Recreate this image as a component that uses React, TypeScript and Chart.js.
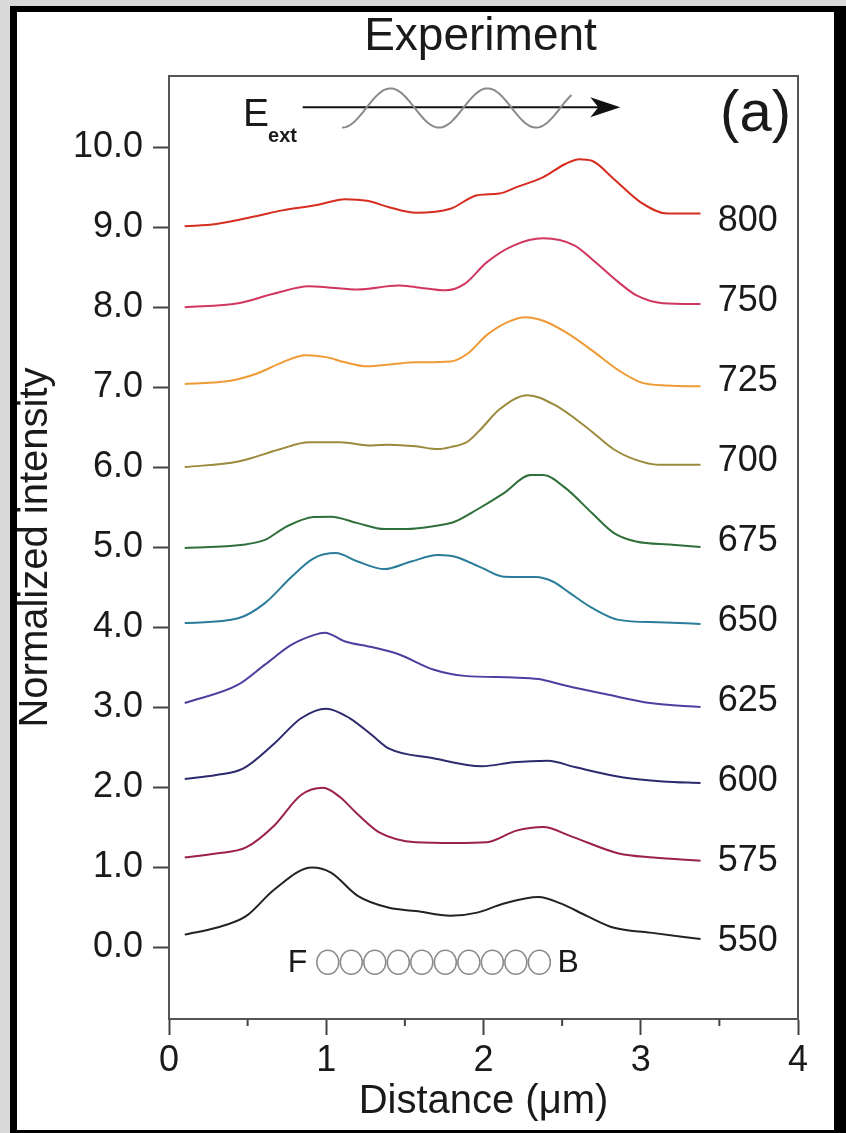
import React, { useEffect, useRef } from "react";
import { Chart, registerables } from "chart.js";

Chart.register(...registerables);

const FONT = "'Liberation Sans', Arial, Helvetica, sans-serif";
const TEXT = "#1a1a1a";

const WAVELENGTHS = ["550", "575", "600", "625", "650", "675", "700", "725", "750", "800"];
const COLORS = ["#222222", "#9c2148", "#2d2a6e", "#4b3f9f", "#2a7c9a", "#2f6f3a", "#9c8a3c", "#ef9a35", "#d1365e", "#d62d20"];

const X_550 = [0.1, 0.3, 0.49, 0.67, 0.91, 1.03, 1.2, 1.4, 1.57, 1.79, 1.96, 2.13, 2.35, 2.49, 2.66, 2.83, 3.06, 3.38];
const Y_550 = [0.155, 0.24, 0.386, 0.72, 0.994, 0.93, 0.64, 0.49, 0.45, 0.39, 0.43, 0.545, 0.625, 0.545, 0.386, 0.24, 0.18, 0.1];

const X_575 = [0.1, 0.3, 0.49, 0.67, 0.84, 0.98, 1.09, 1.2, 1.34, 1.57, 1.82, 2.02, 2.21, 2.38, 2.55, 2.86, 3.08, 3.38];
const Y_575 = [1.12, 1.17, 1.245, 1.52, 1.9, 1.99, 1.87, 1.66, 1.43, 1.31, 1.3, 1.31, 1.455, 1.5, 1.39, 1.17, 1.12, 1.08];

const X_600 = [0.1, 0.3, 0.47, 0.67, 0.84, 1.0, 1.15, 1.29, 1.4, 1.68, 1.99, 2.19, 2.41, 2.58, 2.89, 3.14, 3.38];
const Y_600 = [2.1, 2.15, 2.23, 2.545, 2.86, 2.98, 2.86, 2.65, 2.48, 2.36, 2.26, 2.31, 2.33, 2.25, 2.12, 2.07, 2.05];

const X_625 = [0.1, 0.44, 0.61, 0.78, 0.92, 0.99, 1.12, 1.29, 1.46, 1.68, 1.88, 2.19, 2.35, 2.52, 2.78, 3.06, 3.38];
const Y_625 = [3.05, 3.28, 3.53, 3.78, 3.9, 3.93, 3.82, 3.75, 3.66, 3.47, 3.39, 3.37, 3.35, 3.27, 3.16, 3.05, 3.0];

const X_650 = [0.1, 0.44, 0.61, 0.78, 0.92, 1.06, 1.2, 1.37, 1.54, 1.71, 1.82, 1.99, 2.13, 2.33, 2.44, 2.55, 2.69, 2.86, 3.11, 3.38];
const Y_650 = [4.05, 4.11, 4.3, 4.63, 4.86, 4.925, 4.82, 4.725, 4.82, 4.9, 4.88, 4.74, 4.63, 4.625, 4.57, 4.425, 4.24, 4.09, 4.06, 4.04];

const X_675 = [0.1, 0.47, 0.61, 0.75, 0.92, 1.03, 1.2, 1.37, 1.51, 1.68, 1.82, 1.96, 2.13, 2.3, 2.38, 2.52, 2.69, 2.83, 2.97, 3.2, 3.38];
const Y_675 = [4.99, 5.03, 5.09, 5.26, 5.375, 5.38, 5.3, 5.225, 5.225, 5.26, 5.32, 5.47, 5.675, 5.9, 5.9, 5.74, 5.425, 5.175, 5.07, 5.03, 5.0];

const X_700 = [0.1, 0.44, 0.7, 0.89, 1.09, 1.29, 1.4, 1.57, 1.71, 1.79, 1.9, 1.99, 2.1, 2.28, 2.45, 2.66, 2.83, 2.97, 3.11, 3.38];
const Y_700 = [6.0, 6.07, 6.22, 6.31, 6.31, 6.27, 6.28, 6.26, 6.225, 6.25, 6.32, 6.49, 6.72, 6.9, 6.78, 6.49, 6.22, 6.09, 6.03, 6.03];

const X_725 = [0.1, 0.39, 0.56, 0.72, 0.87, 1.0, 1.12, 1.26, 1.43, 1.57, 1.79, 1.9, 2.02, 2.16, 2.27, 2.38, 2.52, 2.69, 2.86, 3.0, 3.17, 3.38];
const Y_725 = [7.04, 7.08, 7.17, 7.31, 7.4, 7.375, 7.31, 7.26, 7.29, 7.31, 7.32, 7.42, 7.65, 7.82, 7.875, 7.83, 7.69, 7.46, 7.21, 7.06, 7.02, 7.01];

const X_750 = [0.1, 0.44, 0.67, 0.89, 1.0, 1.2, 1.46, 1.57, 1.76, 1.88, 2.02, 2.19, 2.38, 2.58, 2.69, 2.86, 2.97, 3.14, 3.38];
const Y_750 = [8.0, 8.05, 8.17, 8.26, 8.25, 8.22, 8.27, 8.25, 8.21, 8.29, 8.56, 8.77, 8.86, 8.77, 8.6, 8.31, 8.15, 8.05, 8.04];

const X_800 = [0.1, 0.3, 0.56, 0.72, 0.95, 1.12, 1.26, 1.4, 1.57, 1.79, 1.96, 2.1, 2.21, 2.38, 2.52, 2.61, 2.69, 2.83, 3.0, 3.17, 3.38];
const Y_800 = [9.01, 9.04, 9.14, 9.21, 9.28, 9.35, 9.33, 9.25, 9.18, 9.23, 9.4, 9.42, 9.5, 9.625, 9.79, 9.85, 9.83, 9.6, 9.31, 9.17, 9.17];

const SERIES_X = [X_550, X_575, X_600, X_625, X_650, X_675, X_700, X_725, X_750, X_800];
const SERIES_Y = [Y_550, Y_575, Y_600, Y_625, Y_650, Y_675, Y_700, Y_725, Y_750, Y_800];

const X_TICKS = [0, 1, 2, 3, 4];
const X_MINOR_TICKS = [0.5, 1.5, 2.5, 3.5];
const Y_TICKS = [0, 1, 2, 3, 4, 5, 6, 7, 8, 9, 10];

const annotationPlugin = {
  id: "annot",
  afterDraw(chart: any) {
    const { ctx, chartArea, scales } = chart;
    const xs = scales.x;
    const ys = scales.y;
    const px = (v: number) => xs.getPixelForValue(v);
    const py = (v: number) => ys.getPixelForValue(v);
    ctx.save();
    // plot box
    ctx.strokeStyle = "#555";
    ctx.lineWidth = 2;
    ctx.strokeRect(chartArea.left, chartArea.top, chartArea.right - chartArea.left, chartArea.bottom - chartArea.top);
    // minor x ticks
    ctx.strokeStyle = "#444";
    X_MINOR_TICKS.forEach((v) => {
      ctx.beginPath();
      ctx.moveTo(px(v), chartArea.bottom);
      ctx.lineTo(px(v), chartArea.bottom + 7);
      ctx.stroke();
    });
    // title
    ctx.fillStyle = TEXT;
    ctx.textAlign = "center";
    ctx.textBaseline = "alphabetic";
    ctx.font = `46px ${FONT}`;
    ctx.fillText("Experiment", (chartArea.left + chartArea.right) / 2 - 3, 50);
    // (a)
    ctx.font = `58px ${FONT}`;
    ctx.fillText("(a)", px(3.73), 131);
    // right labels
    ctx.textAlign = "left";
    ctx.textBaseline = "middle";
    ctx.font = `36px ${FONT}`;
    WAVELENGTHS.forEach((w, i) => {
      ctx.fillText(w, px(3.49), py(i + 0.08));
    });
    // E_ext
    ctx.textBaseline = "alphabetic";
    ctx.font = `39px ${FONT}`;
    ctx.fillText("E", px(0.47), py(10.27));
    ctx.font = `bold 20px ${FONT}`;
    ctx.fillText("ext", px(0.63), py(10.07));
    // arrow
    const ay = py(10.5);
    ctx.strokeStyle = "#111";
    ctx.lineWidth = 2;
    ctx.beginPath();
    ctx.moveTo(px(0.85), ay);
    ctx.lineTo(px(2.78), ay);
    ctx.stroke();
    ctx.fillStyle = "#111";
    const tip = px(2.87);
    ctx.beginPath();
    ctx.moveTo(tip, ay);
    ctx.lineTo(tip - 30, ay - 10);
    ctx.lineTo(tip - 22, ay);
    ctx.lineTo(tip - 30, ay + 10);
    ctx.closePath();
    ctx.fill();
    // wave
    const x0 = 1.1, x1 = 2.56, yc = 10.49, amp = 0.245, period = 0.617;
    ctx.strokeStyle = "#8a8a8a";
    ctx.lineWidth = 2;
    ctx.beginPath();
    for (let k = 0; k <= 200; k++) {
      const xv = x0 + ((x1 - x0) * k) / 200;
      const yv = yc - amp * Math.cos((2 * Math.PI * (xv - x0)) / period);
      if (k === 0) ctx.moveTo(px(xv), py(yv));
      else ctx.lineTo(px(xv), py(yv));
    }
    ctx.stroke();
    // F ... B
    ctx.fillStyle = TEXT;
    ctx.font = `32px ${FONT}`;
    ctx.textBaseline = "middle";
    ctx.textAlign = "left";
    ctx.fillText("F", px(0.755), py(-0.2));
    ctx.fillText("B", px(2.47), py(-0.2));
    ctx.strokeStyle = "#8a8a8a";
    ctx.lineWidth = 1.5;
    const step = 0.1495;
    for (let i = 0; i < 10; i++) {
      const cx = px(0.935 + step / 2 + i * step);
      ctx.beginPath();
      ctx.ellipse(cx, py(-0.19), 11, 12, 0, 0, Math.PI * 2);
      ctx.stroke();
    }
    ctx.restore();
  },
};

export default function App() {
  const ref = useRef<HTMLCanvasElement | null>(null);
  useEffect(() => {
    document.body.style.margin = "0";
    const canvas = ref.current;
    if (!canvas) return;
    const datasets = SERIES_Y.map((ys, i) => ({
      label: WAVELENGTHS[i],
      data: SERIES_X[i].map((x, j) => ({ x, y: ys[j] })),
      borderColor: COLORS[i],
      borderWidth: 2,
      pointRadius: 0,
      fill: false,
      cubicInterpolationMode: "monotone" as const,
    }));
    const tickFont = { family: FONT, size: 36 };
    const chart = new Chart(canvas, {
      type: "line",
      data: { datasets },
      options: {
        responsive: false,
        animation: false,
        layout: { padding: { top: 76, right: 48, left: 0, bottom: 0 } },
        plugins: { legend: { display: false }, tooltip: { enabled: false }, title: { display: false } },
        scales: {
          x: {
            type: "linear",
            min: 0,
            max: 4,
            afterFit: (s: any) => { s.height = 114; },
            afterBuildTicks: (s: any) => { s.ticks = X_TICKS.map((v) => ({ value: v })); },
            ticks: { font: tickFont, color: TEXT, padding: 4, maxRotation: 0, callback: (v: any) => String(v) },
            grid: { drawOnChartArea: false, drawTicks: true, tickLength: 16, tickColor: "#444", tickWidth: 2 },
            border: { display: true, color: "#555", width: 2 },
            title: { display: true, text: "Distance (μm)", color: TEXT, font: { family: FONT, size: 40 }, padding: { top: 0, bottom: 7 } },
          },
          y: {
            type: "linear",
            min: -0.9,
            max: 10.89,
            afterFit: (s: any) => { s.width = 169; },
            afterBuildTicks: (s: any) => { s.ticks = Y_TICKS.map((v) => ({ value: v })); },
            ticks: { font: tickFont, color: TEXT, padding: 10, callback: (v: any) => Number(v).toFixed(1) },
            grid: { drawOnChartArea: false, drawTicks: true, tickLength: 16, tickColor: "#444", tickWidth: 2 },
            border: { display: true, color: "#555", width: 2 },
            title: { display: true, text: "Normalized intensity", color: TEXT, font: { family: FONT, size: 40 }, padding: { top: 12, bottom: 0 } },
          },
        },
      },
      plugins: [annotationPlugin],
    });
    return () => chart.destroy();
  }, []);

  return (
    <div style={{ position: "relative", width: 846, height: 1133, background: "#dadada", overflow: "hidden" }}>
      <div
        style={{
          position: "absolute",
          left: 10,
          top: 6,
          width: 836,
          height: 1127,
          boxSizing: "border-box",
          background: "#fff",
          borderLeft: "7px solid #000",
          borderTop: "6px solid #000",
          borderRight: "12px solid #000",
          borderBottom: "3px solid #000",
        }}
      />
      <canvas ref={ref} width={846} height={1133} style={{ position: "absolute", left: 0, top: 0, display: "block" }} />
    </div>
  );
}
